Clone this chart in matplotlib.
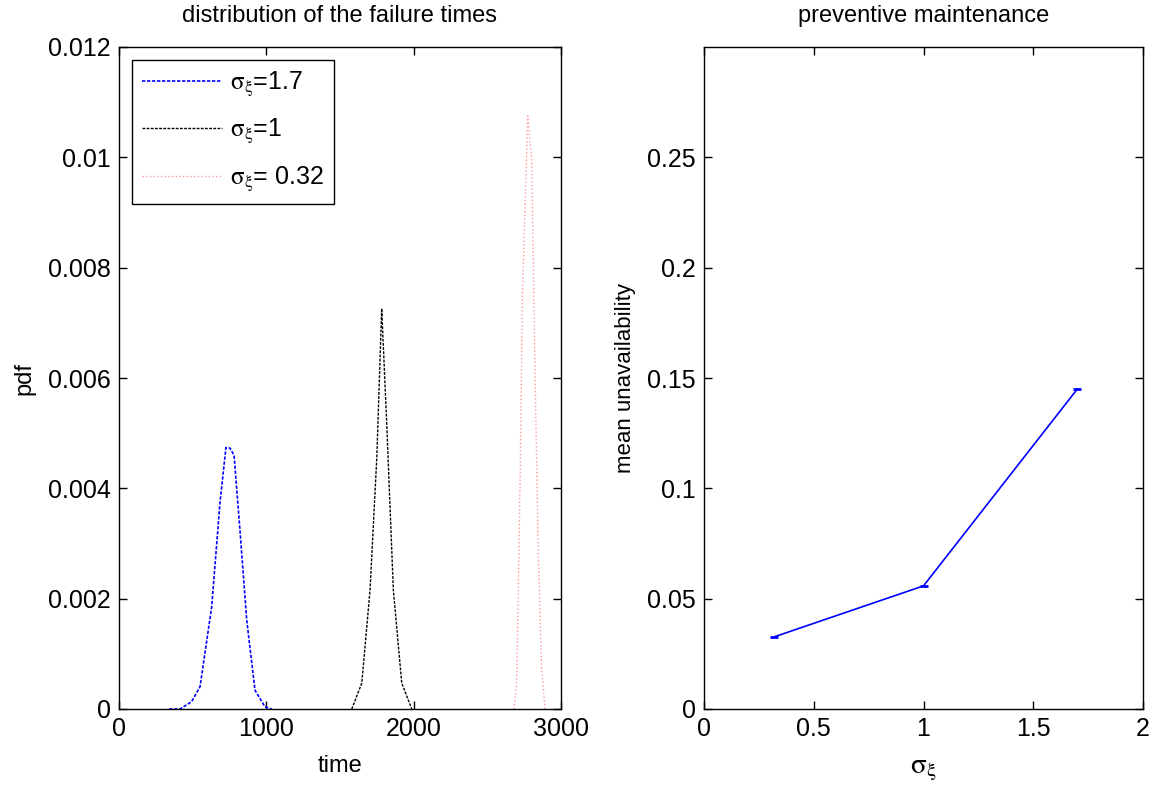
import numpy as np
import matplotlib
matplotlib.use('Agg')
import matplotlib.pyplot as plt

plt.rcParams['font.family'] = ['Liberation Sans', 'DejaVu Sans']
plt.rcParams['mathtext.fontset'] = 'stix'
plt.rcParams['font.size'] = 16

# failure time pdfs
t_a = [341, 414, 493, 550, 629, 685, 726, 753, 781, 821, 867, 923, 991, 1036]
pdf_a = [0, 0, 0.000133, 0.000405, 0.00185, 0.00373, 0.00474, 0.00473,
         0.0046, 0.00324, 0.00161, 0.00034, 0.00004, 0]
t_b = [1580, 1648, 1704, 1750, 1783, 1817, 1862, 1919, 1987]
pdf_b = [0, 0.00047, 0.00216, 0.00457, 0.00726, 0.00518, 0.00216, 0.00047, 0]
t_c = [2681, 2699, 2722, 2738, 2774, 2801, 2824, 2846, 2869, 2892]
pdf_c = [0, 0.00048, 0.00405, 0.00747, 0.01075, 0.00997, 0.00604, 0.00283,
         0.00069, 0]

# preventive maintenance
sigma = [0.32, 1.0, 1.7]
unavail = [0.0327, 0.0558, 0.1449]

sx = r'$\mathrm{\sigma}_{\mathrm{\xi}}$'

fig = plt.figure(figsize=(11.57, 7.91), dpi=100)
ax1 = fig.add_axes([119/1157, 1 - 709/791, 442/1157, 662/791])
ax2 = fig.add_axes([704/1157, 1 - 709/791, 439/1157, 662/791])

ax1.plot(t_a, pdf_a, color='blue', ls='--', lw=1.2, dashes=(2, 1), label=sx + '=1.7')
ax1.plot(t_b, pdf_b, color='black', ls='--', lw=1, dashes=(2, 1), label=sx + '=1')
ax1.plot(t_c, pdf_c, color='#ff9999', ls=':', lw=1, label=sx + '= 0.32')
ax1.set_xlim(0, 3000)
ax1.set_ylim(0, 0.012)
ax1.set_xticks([0, 1000, 2000, 3000])
ax1.set_yticks([0, 0.002, 0.004, 0.006, 0.008, 0.01, 0.012])
ax1.set_yticklabels(['0', '0.002', '0.004', '0.006', '0.008', '0.01', '0.012'])
ax1.set_title('distribution of the failure times', fontsize=17, pad=18)
ax1.set_xlabel('time', fontsize=17, labelpad=10)
ax1.set_ylabel('pdf', fontsize=17, labelpad=9)
leg = ax1.legend(loc='upper left', handlelength=3.2, handletextpad=0.35,
                 fancybox=False, edgecolor='black', framealpha=1,
                 borderaxespad=0.5, labelspacing=0.75, fontsize=18)
leg.get_frame().set_linewidth(1)

ax2.plot(sigma, unavail, color='blue', lw=1.2, marker='_', ms=6, mew=2)
ax2.set_xlim(0, 2)
ax2.set_ylim(0, 0.3)
ax2.set_xticks([0, 0.5, 1, 1.5, 2])
ax2.set_xticklabels(['0', '0.5', '1', '1.5', '2'])
ax2.set_yticks([0, 0.05, 0.1, 0.15, 0.2, 0.25])
ax2.set_yticklabels(['0', '0.05', '0.1', '0.15', '0.2', '0.25'])
ax2.set_title('preventive maintenance', fontsize=17, pad=18)
ax2.set_xlabel(sx, fontsize=21, labelpad=10)
ax2.set_ylabel('mean unavailability', fontsize=16, labelpad=8)

for ax in (ax1, ax2):
    ax.tick_params(direction='in', top=True, right=True, length=6, width=1,
                   labelsize=18, pad=6)
    for s in ax.spines.values():
        s.set_linewidth(1)

fig.savefig('out.png', dpi=100)
